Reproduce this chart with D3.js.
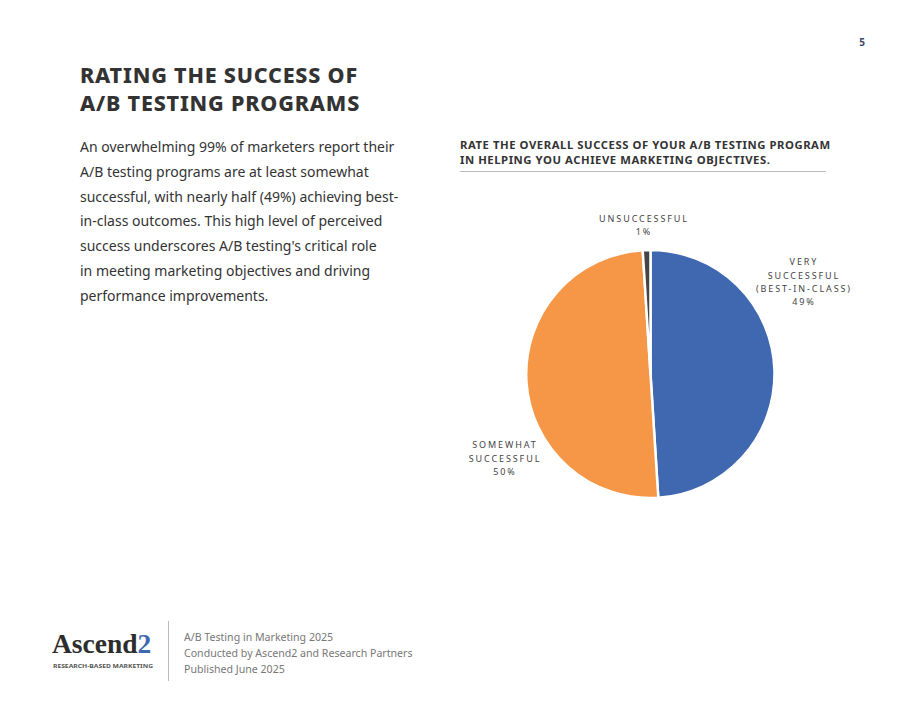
<!DOCTYPE html>
<html lang="en">
<head>
<meta charset="utf-8">
<script src="https://cdn.jsdelivr.net/npm/d3@7/dist/d3.min.js"></script>
<style>
  body { margin: 0; background: #fff; }
  svg text { font-family: "Noto Sans", "Open Sans", sans-serif; }
</style>
</head>
<body>
<script>
  // chart data
  const categories = ['VERY SUCCESSFUL (BEST-IN-CLASS)', 'SOMEWHAT SUCCESSFUL', 'UNSUCCESSFUL']
  const values = [49, 50, 1]
  const sliceColors = ['#3f68b0', '#f59746', '#454545']
  const labelLines = [
    ['VERY', 'SUCCESSFUL', '(BEST-IN-CLASS)', '49%'],
    ['SOMEWHAT', 'SUCCESSFUL', '50%'],
    ['UNSUCCESSFUL', '1%']
  ]

  const bodyLines = [
    'An overwhelming 99% of marketers report their',
    'A/B testing programs are at least somewhat',
    'successful, with nearly half (49%) achieving best-',
    'in-class outcomes. This high level of perceived',
    "success underscores A/B testing's critical role",
    'in meeting marketing objectives and driving',
    'performance improvements.'
  ]
  const footerLines = [
    'A/B Testing in Marketing 2025',
    'Conducted by Ascend2 and Research Partners',
    'Published June 2025'
  ]

  const w = 920
  const h = 711
  const svg = d3.select('body').append('svg')
    .attr('width', w)
    .attr('height', h)

  // page number
  svg.append('text')
    .attr('x', 862).attr('y', 46)
    .attr('text-anchor', 'middle')
    .style('font-size', '10px').style('font-weight', 700)
    .style('fill', '#3a4a6b')
    .text('5')

  // heading
  svg.append('g').selectAll('text')
    .data(['RATING THE SUCCESS OF', 'A/B TESTING PROGRAMS'])
    .enter().append('text')
    .attr('x', 80)
    .attr('y', (d, i) => 83 + i * 28)
    .style('font-size', '21.5px').style('font-weight', 800)
    .style('letter-spacing', '0.8px')
    .style('fill', '#333')
    .text(d => d)

  // body copy
  svg.append('g').selectAll('text')
    .data(bodyLines)
    .enter().append('text')
    .attr('x', 80)
    .attr('y', (d, i) => 152 + i * 24.8)
    .style('font-size', '14px')
    .style('fill', '#333')
    .text(d => d)

  // chart title + rule
  svg.append('g').selectAll('text')
    .data(['RATE THE OVERALL SUCCESS OF YOUR A/B TESTING PROGRAM', 'IN HELPING YOU ACHIEVE MARKETING OBJECTIVES.'])
    .enter().append('text')
    .attr('x', 460)
    .attr('y', (d, i) => 149 + i * 14.5)
    .style('font-size', '11.3px').style('font-weight', 700)
    .style('letter-spacing', '0.55px')
    .style('fill', '#333')
    .text(d => d)
  svg.append('line')
    .attr('x1', 460).attr('x2', 826)
    .attr('y1', 171.5).attr('y2', 171.5)
    .style('stroke', '#bbb').style('stroke-width', 1)

  // pie
  const cx = 650.5, cy = 374, r = 124
  const pie = d3.pie().sort(null).value(d => d)
  const arc = d3.arc().innerRadius(0).outerRadius(r)
  const arcs = pie(values)

  const g = svg.append('g').attr('transform', `translate(${cx},${cy})`)
  g.selectAll('path')
    .data(arcs)
    .enter().append('path')
    .attr('d', arc)
    .style('fill', (d, i) => sliceColors[i])
    .style('stroke', '#fff')
    .style('stroke-width', 2.5)
    .style('stroke-linejoin', 'round')

  // labels: angle (deg from top, clockwise) and radius of the label block centre
  const labelPlace = [
    {angle: 59, dist: 179},
    {angle: 240, dist: 168},
    {angle: -2.5, dist: 149}
  ]
  const lh = 13.3
  labelLines.forEach(function(lines, i) {
    const p = labelPlace[i]
    const a = p.angle * Math.PI / 180
    const lx = Math.sin(a) * p.dist
    const ly = -Math.cos(a) * p.dist
    const top = ly - (lines.length - 1) * lh / 2
    g.append('g').selectAll('text')
      .data(lines)
      .enter().append('text')
      .attr('x', lx)
      .attr('y', (d, j) => top + j * lh + 3.5)
      .attr('text-anchor', 'middle')
      .style('font-size', '9px')
      .style('letter-spacing', '1.9px')
      .style('fill', '#444')
      .text(d => d)
  })

  // logo
  const logo = svg.append('g')
  const logoText = logo.append('text')
    .attr('x', 52).attr('y', 653)
    .style('font-family', '"Liberation Serif", "DejaVu Serif", serif')
    .style('font-weight', 700)
    .style('font-size', '27.5px')
    .style('fill', '#2d2d2d')
  logoText.append('tspan').text('Ascend')
  logoText.append('tspan').style('fill', '#3f68b0').text('2')
  logo.append('text')
    .attr('x', 53).attr('y', 667.5)
    .attr('textLength', 100)
    .attr('lengthAdjust', 'spacingAndGlyphs')
    .style('font-size', '6px').style('font-weight', 700)
    .style('fill', '#555')
    .text('RESEARCH-BASED MARKETING')

  svg.append('line')
    .attr('x1', 168.5).attr('x2', 168.5)
    .attr('y1', 621).attr('y2', 681)
    .style('stroke', '#bbb').style('stroke-width', 1)

  svg.append('g').selectAll('text')
    .data(footerLines)
    .enter().append('text')
    .attr('x', 184)
    .attr('y', (d, i) => 641 + i * 16)
    .style('font-size', '10.6px')
    .style('fill', '#777')
    .text(d => d)
</script>
</body>
</html>
